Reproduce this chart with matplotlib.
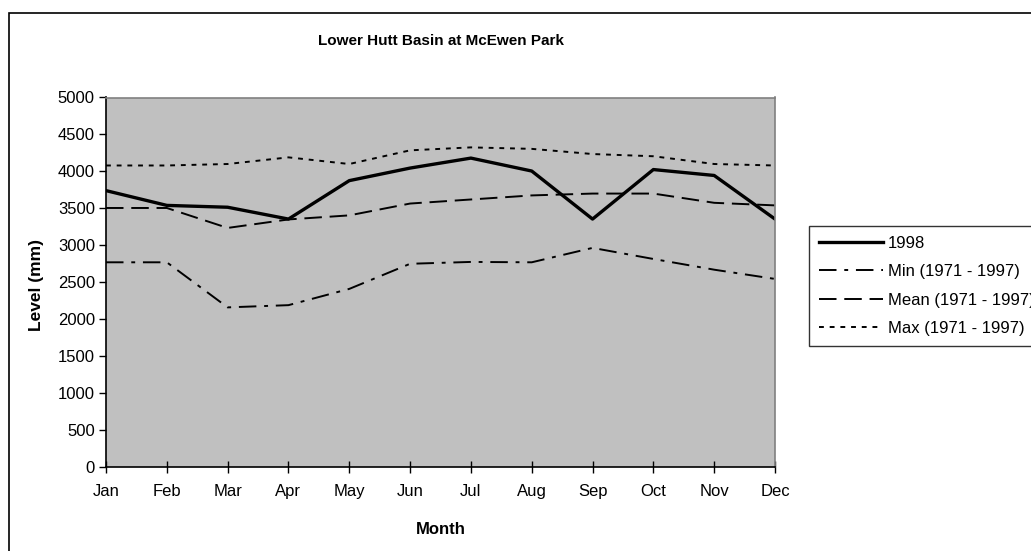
import matplotlib.pyplot as plt
import matplotlib.patches as mpatches
import numpy as np

# === DATOS ===
months = ["Jan", "Feb", "Mar", "Apr", "May", "Jun", "Jul", "Aug", "Sep", "Oct", "Nov", "Dec"]
level_1998 = [3740, 3540, 3515, 3355, 3875, 4045, 4180, 4005, 3355, 4025, 3945, 3355]
min_71_97 = [2770, 2770, 2160, 2190, 2410, 2750, 2775, 2770, 2965, 2815, 2670, 2545]
mean_71_97 = [3505, 3505, 3235, 3350, 3405, 3565, 3620, 3675, 3700, 3700, 3575, 3540]
max_71_97 = [4080, 4080, 4100, 4190, 4100, 4285, 4325, 4305, 4235, 4205, 4100, 4080]
yticks = list(range(0, 5001, 500))

plt.rcParams["font.family"] = ["Liberation Sans", "DejaVu Sans"]

W, H = 1031, 551
fig = plt.figure(figsize=(W / 100, H / 100), dpi=100)

# borde exterior del gráfico
fig.patches.append(mpatches.Rectangle((9 / W, 0 - 0.01), 1.1, 1 - 13 / H + 0.01,
                                      transform=fig.transFigure, fill=False,
                                      edgecolor="black", linewidth=1.2))

ax = fig.add_axes([106 / W, 1 - 467 / H, (775 - 106) / W, (467 - 97.5) / H])
ax.set_facecolor("#C0C0C0")

x = np.arange(len(months))
ax.plot(x, level_1998, color="black", linewidth=2.4, label="1998")
ax.plot(x, min_71_97, color="black", linewidth=1.4, dashes=(9, 4, 2, 4), label="Min (1971 - 1997)")
ax.plot(x, mean_71_97, color="black", linewidth=1.4, dashes=(9, 4), label="Mean (1971 - 1997)")
ax.plot(x, max_71_97, color="black", linewidth=1.4, dashes=(2.5, 3), label="Max (1971 - 1997)")

ax.set_xlim(0, 11)
ax.set_ylim(0, 5000)
ax.set_xticks(x)
ax.set_xticklabels(months)
ax.set_yticks(yticks)
ax.tick_params(axis="both", labelsize=12, colors="black", width=1)
ax.tick_params(axis="y", direction="out", length=5, pad=3)
ax.tick_params(axis="x", direction="inout", length=8, pad=8)

for side in ["left", "bottom"]:
    ax.spines[side].set_color("black")
    ax.spines[side].set_linewidth(1.2)
for side in ["top", "right"]:
    ax.spines[side].set_color("#808080")
    ax.spines[side].set_linewidth(1.2)

fig.text(441 / W, 1 - 41 / H, "Lower Hutt Basin at McEwen Park", ha="center", va="center",
         fontsize=11, fontweight="bold")
fig.text(441 / W, 1 - 529 / H, "Month", ha="center", va="center", fontsize=12, fontweight="bold")
fig.text(36 / W, 1 - 285 / H, "Level (mm)", ha="center", va="center", rotation=90,
         fontsize=12.5, fontweight="bold")

leg = fig.legend(loc="upper left", bbox_to_anchor=(809 / W, 1 - 225.5 / H), frameon=True,
                 fontsize=12, handlelength=3.8, handletextpad=0.3, borderpad=0.62,
                 labelspacing=0.8, borderaxespad=0, fancybox=False)
leg.get_frame().set_edgecolor("black")
leg.get_frame().set_linewidth(1.0)

fig.savefig("out.png", dpi=100)
